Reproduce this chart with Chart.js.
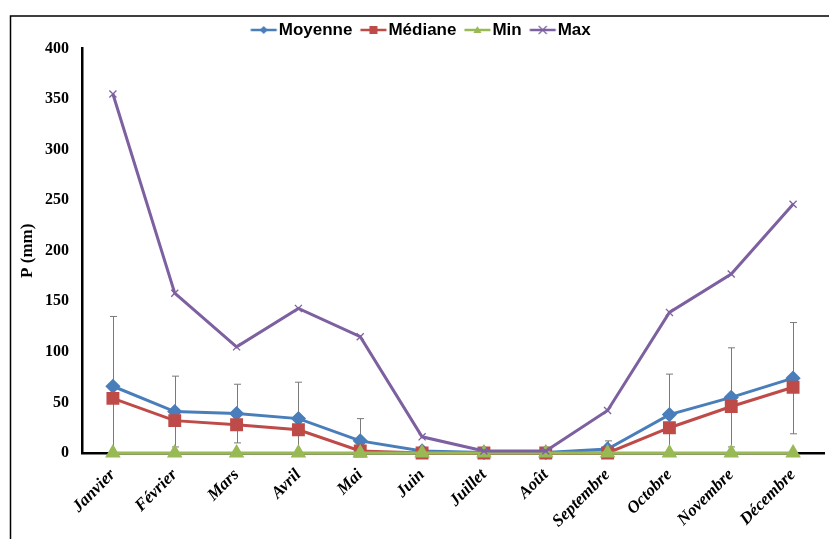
<!DOCTYPE html>
<html>
<head>
<meta charset="utf-8">
<script src="https://cdn.jsdelivr.net/npm/chart.js@4"></script>
<style>
  html,body{margin:0;padding:0;background:#fff;}
  #wrap{width:829px;height:539px;position:relative;}
</style>
</head>
<body>
<div id="wrap"><canvas id="chart" width="829" height="539"></canvas></div>
<script>
const months  = ["Janvier","Février","Mars","Avril","Mai","Juin","Juillet","Août","Septembre","Octobre","Novembre","Décembre"];
const moyenne = [66, 41, 39, 34, 12, 2, 0.5, 0.5, 4, 38, 55, 74];
const mediane = [54, 32, 28, 23, 2, 0, 0, 0, 0, 25, 46, 65];
const minVals = [0, 0, 0, 0, 0, 0, 0, 0, 0, 0, 0, 0];
const maxVals = [355, 158, 105, 143, 115, 16, 2, 2, 42, 139, 177, 246];
// ecart-type of the mean (error bars)
const ecart   = [69, 35, 29, 36, 22, 3, 0, 0, 8, 40, 49, 55];

const BLUE="#4a7ebb", RED="#be4b48", GREEN="#98b954", PURPLE="#7d60a0";

// legend swatch: line with marker, drawn right of the canvas centre so it sits close to the text
function swatch(color, style){
  const c=document.createElement("canvas");
  c.width=40; c.height=12;
  const x=c.getContext("2d");
  x.translate(10.5,0);
  x.strokeStyle=color; x.fillStyle=color; x.lineWidth=2.5;
  x.beginPath(); x.moveTo(0,6); x.lineTo(26,6); x.stroke();
  x.beginPath();
  if(style==="diamond"){ x.moveTo(13,2);x.lineTo(17,6);x.lineTo(13,10);x.lineTo(9,6);x.closePath();x.fill(); }
  if(style==="square"){ x.fillRect(9,2,8,8); }
  if(style==="tri"){ x.moveTo(13,2);x.lineTo(17,9);x.lineTo(9,9);x.closePath();x.fill(); }
  if(style==="cross"){ x.lineWidth=1.2; x.moveTo(9,2);x.lineTo(17,10);x.moveTo(17,2);x.lineTo(9,10);x.stroke(); }
  return c;
}
const swatches=[swatch(BLUE,"diamond"),swatch(RED,"square"),swatch(GREEN,"tri"),swatch(PURPLE,"cross")];

const frame={
  id:"frame",
  beforeDraw(chart){
    const ctx=chart.ctx;
    ctx.save();
    ctx.strokeStyle="#000"; ctx.lineWidth=1.5;
    ctx.beginPath(); ctx.moveTo(10.5,539); ctx.lineTo(10.5,16); ctx.lineTo(829,16); ctx.stroke();
    ctx.restore();
  }
};

const errorBars={
  id:"errorBars",
  beforeDatasetsDraw(chart){
    const ctx=chart.ctx, xs=chart.scales.x, ys=chart.scales.y;
    ctx.save();
    ctx.strokeStyle="#7a7a7a"; ctx.lineWidth=1;
    moyenne.forEach((m,i)=>{
      if(!ecart[i]) return;
      const x=Math.round(xs.getPixelForValue(i))+0.5;
      const lo=m-ecart[i], hi=m+ecart[i];
      const yt=ys.getPixelForValue(hi), yb=ys.getPixelForValue(Math.max(0,lo));
      ctx.beginPath();
      ctx.moveTo(x,yt); ctx.lineTo(x,yb);
      ctx.moveTo(x-3.5,yt); ctx.lineTo(x+3.5,yt);
      if(lo>0){ ctx.moveTo(x-3.5,yb); ctx.lineTo(x+3.5,yb); }
      ctx.stroke();
    });
    ctx.restore();
  }
};

new Chart(document.getElementById("chart"),{
  type:"line",
  data:{
    labels:months,
    datasets:[
      {label:"Moyenne",data:moyenne,borderColor:BLUE,backgroundColor:BLUE,borderWidth:3,pointStyle:"rectRot",pointRadius:5.5,clip:false,order:4},
      {label:"Médiane",data:mediane,borderColor:RED,backgroundColor:RED,borderWidth:3,pointStyle:"rect",pointRadius:7,clip:false,order:3},
      {label:"Min",data:minVals,borderColor:GREEN,backgroundColor:GREEN,borderWidth:3,pointStyle:"triangle",pointRadius:6,clip:false,order:2},
      {label:"Max",data:maxVals,borderColor:PURPLE,backgroundColor:PURPLE,borderWidth:3,pointStyle:"crossRot",pointRadius:5,pointBorderWidth:1.3,clip:false,order:1}
    ]
  },
  plugins:[frame,errorBars],
  options:{
    responsive:false,
    animation:false,
    events:[],
    layout:{autoPadding:false,padding:{left:17,right:5,top:14,bottom:0}},
    plugins:{
      tooltip:{enabled:false},
      legend:{
        position:"top",
        labels:{
          usePointStyle:true,
          pointStyleWidth:20,
          padding:7.5,
          color:"#000",
          font:{family:"'Liberation Sans', Arial, sans-serif",weight:"bold",size:17},
          generateLabels(chart){
            return chart.data.datasets.map((d,i)=>({
              text:d.label, pointStyle:swatches[i], fillStyle:d.borderColor,
              strokeStyle:d.borderColor, lineWidth:0, hidden:false, datasetIndex:i
            }));
          }
        }
      }
    },
    scales:{
      x:{
        offset:true,
        grid:{display:false},
        border:{display:true,color:"#000",width:2.5},
        ticks:{
          color:"#000",maxRotation:45,minRotation:45,autoSkip:false,padding:4,
          font:{family:"'Liberation Serif','Times New Roman',serif",weight:"bold",style:"italic",size:17}
        },
        afterFit(s){ s.height=86; s.paddingRight=0; }
      },
      y:{
        min:0,max:400,
        grid:{display:false},
        border:{display:true,color:"#000",width:2.5},
        ticks:{
          stepSize:50,color:"#000",padding:5,
          font:{family:"'Liberation Serif','Times New Roman',serif",weight:"bold",size:16}
        },
        title:{
          display:true,text:"P (mm)",color:"#000",padding:{top:0,bottom:4},
          font:{family:"'Liberation Serif','Times New Roman',serif",weight:"bold",size:17}
        },
        afterFit(s){ s.width=65; }
      }
    }
  }
});
</script>
</body>
</html>
